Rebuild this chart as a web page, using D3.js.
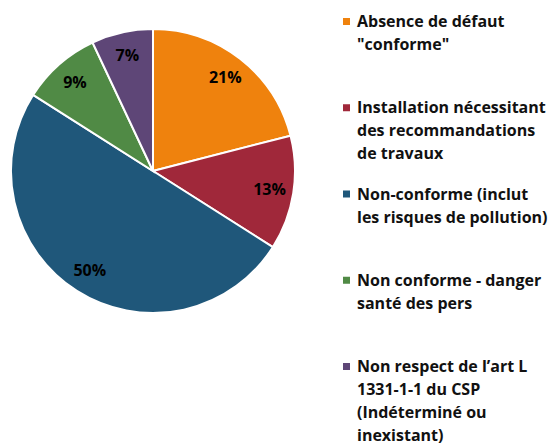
<!DOCTYPE html>
<html>
<head>
<meta charset="utf-8">
<script src="https://cdn.jsdelivr.net/npm/d3@7"></script>
<style>
  body { margin: 0; background: #fff; }
  text { font-family: "Open Sans", Lato, sans-serif; font-weight: bold; }
</style>
</head>
<body>
<svg id="chart" width="552" height="445"></svg>
<script>
// data
const categories = [
    "Absence de défaut \"conforme\"",
    "Installation nécessitant des recommandations de travaux",
    "Non-conforme (inclut les risques de pollution)",
    "Non conforme - danger santé des pers",
    "Non respect de l\u2019art L 1331-1-1 du CSP (Indéterminé ou inexistant)"
]
const legendLines = [
    ["Absence de défaut", "\"conforme\""],
    ["Installation nécessitant", "des recommandations", "de travaux"],
    ["Non-conforme (inclut", "les risques de pollution)"],
    ["Non conforme - danger", "santé des pers"],
    ["Non respect de l\u2019art L", "1331-1-1 du CSP", "(Indéterminé ou", "inexistant)"]
]
const values = [21, 13, 50, 9, 7]
const colors = ["#ef820d", "#a0283a", "#1f577a", "#508a45", "#5e4677"]

var width = 552,
    height = 445,
    cx = 153,
    cy = 171,
    radius = 142,
    labelRadius = 118,
    svg = d3.select('#chart')

const color = d3.scaleOrdinal()
    .domain(categories)
    .range(colors)

const pie = d3.pie()
    .sort(null)
    .value(d => d.value)

const rows = categories.map((c, i) => ({ name: c, value: values[i], lines: legendLines[i] }))
const arcs = pie(rows)

const arc = d3.arc().innerRadius(0).outerRadius(radius)
const labelArc = d3.arc().innerRadius(labelRadius).outerRadius(labelRadius)

let chartArea = svg.append('g')
    .attr('transform', 'translate(' + cx + ',' + cy + ')')

chartArea.selectAll('.slice')
    .data(arcs)
    .join('path')
    .attr('class', 'slice')
    .attr('d', arc)
    .attr('fill', d => color(d.data.name))
    .attr('stroke', '#fff')
    .attr('stroke-width', 2)

chartArea.selectAll('.pct')
    .data(arcs)
    .join('text')
    .attr('class', 'pct')
    .attr('transform', d => 'translate(' + labelArc.centroid(d) + ')')
    .attr('text-anchor', 'middle')
    .attr('dy', '0.35em')
    .style('font-size', '16px')
    .attr('fill', '#000')
    .text(d => d3.format('.0f')(d.data.value) + '%')

// legend
const ly = d3.scaleLinear().domain([0, 4]).range([27, 372])

let legend = svg.append('g')

let items = legend.selectAll('.item')
    .data(rows)
    .join('g')
    .attr('class', 'item')
    .attr('transform', (d, i) => 'translate(0,' + ly(i) + ')')

items.append('rect')
    .attr('x', 343)
    .attr('y', -9)
    .attr('width', 7)
    .attr('height', 7)
    .attr('fill', d => color(d.name))

items.append('text')
    .attr('x', 357)
    .attr('y', 0)
    .style('font-size', '16px')
    .attr('fill', '#111')
    .selectAll('tspan')
    .data(d => d.lines)
    .join('tspan')
    .attr('x', 357)
    .attr('dy', (d, i) => i === 0 ? 0 : 23)
    .text(d => d)
</script>
</body>
</html>
